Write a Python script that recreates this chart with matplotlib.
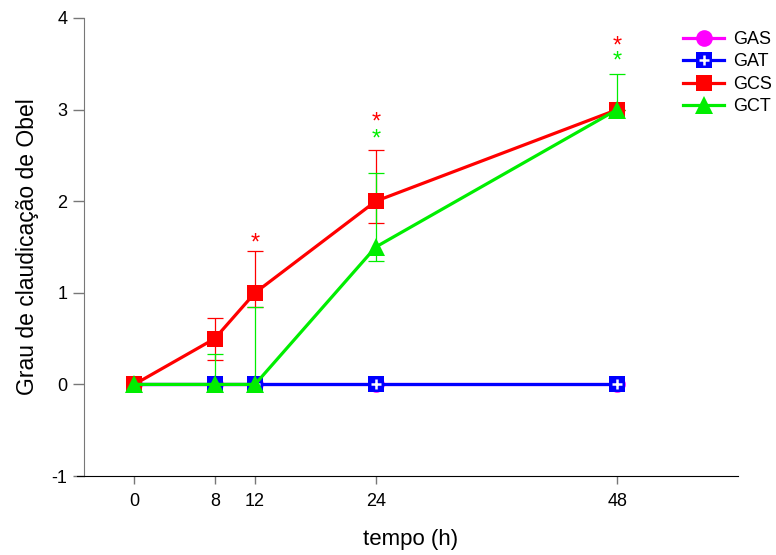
import numpy as np
import matplotlib
matplotlib.use('Agg')
import matplotlib.pyplot as plt
import matplotlib.transforms as mtransforms

plt.rcParams['font.family'] = ['Liberation Sans', 'DejaVu Sans']
plt.rcParams['axes.unicode_minus'] = False

tempo = [0, 8, 12, 24, 48]
gas = [0, 0, 0, 0, 0]
gat = [0, 0, 0, 0, 0]
gcs = [0, 0.5, 1, 2, 3]
gct = [0, 0, 0, 1.5, 3]

# erros (inferior, superior)
gcs_err_low = [0, 0.23, 0.16, 0.24, 0]
gcs_err_up = [0, 0.22, 0.46, 0.56, 0]
gct_err_low = [0, 0, 0, 0.15, 0]
gct_err_up = [0, 0.33, 0.84, 0.81, 0.39]

# asteriscos de significancia
ast_gcs_x = [12, 24, 48]
ast_gcs_y = [1.59, 2.91, 3.74]
ast_gct_x = [24, 48]
ast_gct_y = [2.73, 3.58]

red = '#ff0000'
green = '#00ee00'
blue = '#0000ff'
magenta = '#ff00ff'

fig = plt.figure(figsize=(7.76, 5.55), dpi=100)
ax = fig.add_axes([0.1082, 0.1423, 0.951 - 0.1082, 0.9676 - 0.1423])

ax.errorbar(tempo, gcs, yerr=[gcs_err_low, gcs_err_up], fmt='none',
            ecolor=red, elinewidth=0.9, capsize=6, capthick=0.9, zorder=2)
ax.errorbar(tempo, gct, yerr=[gct_err_low, gct_err_up], fmt='none',
            ecolor=green, elinewidth=0.9, capsize=6, capthick=0.9, zorder=2)

l1, = ax.plot(tempo, gas, color=magenta, lw=2.3, marker='o', ms=12,
              markeredgewidth=0, zorder=3)
l2, = ax.plot(tempo, gat, color=blue, lw=2.3, marker='s', ms=11,
              markeredgewidth=0, zorder=4)
p2, = ax.plot(tempo, gat, ls='none', marker='+', ms=7, mew=1.8,
              color='white', zorder=4.5)
l3, = ax.plot(tempo, gcs, color=red, lw=2.3, marker='s', ms=12,
              markeredgewidth=0, zorder=5)
l4, = ax.plot(tempo, gct, color=green, lw=2.3, marker='^', ms=13,
              markeredgewidth=0, zorder=6)

# asteriscos deslocados um pouco para baixo (o glifo fica alto na linha)
off = mtransforms.offset_copy(ax.transData, fig=fig, x=0, y=-5, units='dots')
for x, y in zip(ast_gcs_x, ast_gcs_y):
    ax.text(x, y, '*', color=red, fontsize=17, ha='center', va='center',
            transform=off)
for x, y in zip(ast_gct_x, ast_gct_y):
    ax.text(x, y, '*', color=green, fontsize=17, ha='center', va='center',
            transform=off)

ax.set_xlim(-5, 60)
ax.set_ylim(-1, 4)
ax.set_xticks(tempo)
ax.set_yticks([-1, 0, 1, 2, 3, 4])
ax.tick_params(axis='both', labelsize=13, color='#777777', direction='out')
ax.tick_params(axis='y', length=8, width=1, pad=4)
ax.tick_params(axis='x', length=6, width=1, pad=6)
ax.spines['top'].set_visible(False)
ax.spines['right'].set_visible(False)
ax.spines['left'].set_color('#777777')
ax.spines['bottom'].set_color('black')
# eixo x prolongado um pouco para a esquerda
ax.plot([-5.7, -5], [-1, -1], color='black', lw=0.8, clip_on=False)

ax.set_xlabel('tempo (h)', fontsize=16, labelpad=14)
ax.set_ylabel('Grau de claudicação de Obel', fontsize=16.5, labelpad=9)

ax.legend([l1, (l2, p2), l3, l4], ['GAS', 'GAT', 'GCS', 'GCT'],
          loc='upper left', bbox_to_anchor=(0.891, 1.007), frameon=False,
          fontsize=13, handlelength=2.3, labelspacing=0.3, handletextpad=0.5)

plt.savefig('out.png', dpi=100)
